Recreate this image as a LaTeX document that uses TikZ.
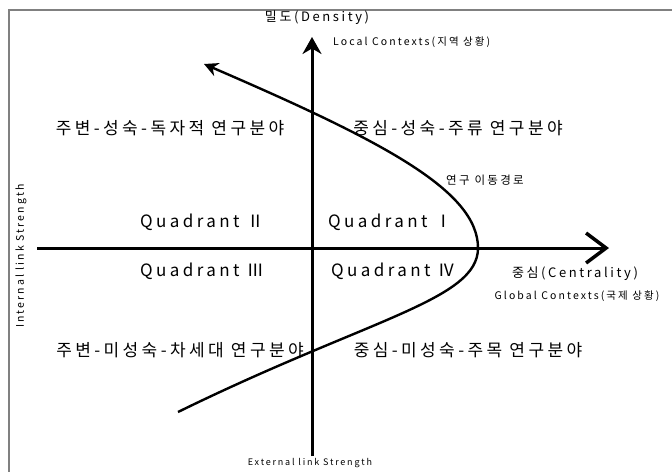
\documentclass[tikz,border=0pt]{standalone}
\usepackage{fontspec}
\setmainfont{Noto Sans CJK KR}[LetterSpace=20]
\usetikzlibrary{arrows.meta}

\begin{document}
\begin{tikzpicture}[x=1pt,y=-1pt,
  axis/.style={line width=3pt},
  route/.style={line width=2.4pt},
  fieldlbl/.style={inner sep=0pt,font=\fontsize{17}{20}\selectfont},
  quadlbl/.style={inner sep=0pt,font=\fontsize{17}{20}\selectfont},
  axislbl/.style={inner sep=0pt,font=\fontsize{13}{15}\selectfont},
  ctxlbl/.style={inner sep=0pt,font=\fontsize{10.5}{12}\selectfont},
  strlbl/.style={inner sep=0pt,font=\fontsize{9}{11}\selectfont}]
\useasboundingbox (0,0) rectangle (672,472);
\draw[gray,line width=1.5pt] (672,10) -- (9,10) -- (9,472);

% axes
\coordinate (vbot) at (312,456);
\coordinate (vtop) at (312,37);
\coordinate (hleft) at (37,248);
\coordinate (hright) at (609,248);
\draw[axis,-{Stealth[length=17pt,width=19pt]}] (vbot) -- (vtop);
\draw[axis,-{Straight Barb[length=20pt,width=30pt,line width=3.5pt]}] (hleft) -- (hright);

% research path
\coordinate (cstart) at (178,412);
\coordinate (cvert) at (478,248);
\coordinate (cend) at (204,64);
\draw[route,-{Stealth[length=14pt,width=14pt]}] (cstart) .. controls (370,318) and (478,300) .. (cvert)
   .. controls (478,190) and (380,140) .. (cend);

\node[axislbl] (density) at (317,18) {밀도(Density)};
\node[ctxlbl,anchor=west] (local) at (333,42) {Local Contexts(지역 상황)};
\node[axislbl] (centrality) at (575,274) {중심(Centrality)};
\node[ctxlbl] (global) at (577,296) {Global Contexts(국제 상황)};
\node[strlbl] (external) at (310,463) {External link Strength};
\node[strlbl,rotate=90,font=\fontsize{10.5}{12}\selectfont] (internal) at (21,256) {Internal link Strength};
\node[ctxlbl,font=\fontsize{11.5}{13}\selectfont] (pathlbl) at (485,180) {연구 이동경로};

\foreach \n/\x/\y/\t in {f2/170/128/주변-성숙-독자적 연구분야,f1/458/128/중심-성숙-주류 연구분야,
   f3/180/350/주변-미성숙-차세대 연구분야,f4/468/350/중심-미성숙-주목 연구분야} {
   \node[fieldlbl] (\n) at (\x,\y) {\t};
}
\foreach \n/\x/\y/\t in {q2/202/222/Ⅱ,q1/390/222/Ⅰ,q3/202/271/Ⅲ,q4/393/271/Ⅳ} {
   \node[quadlbl] (\n) at (\x,\y) {Quadrant \t};
}
\end{tikzpicture}
\end{document}
